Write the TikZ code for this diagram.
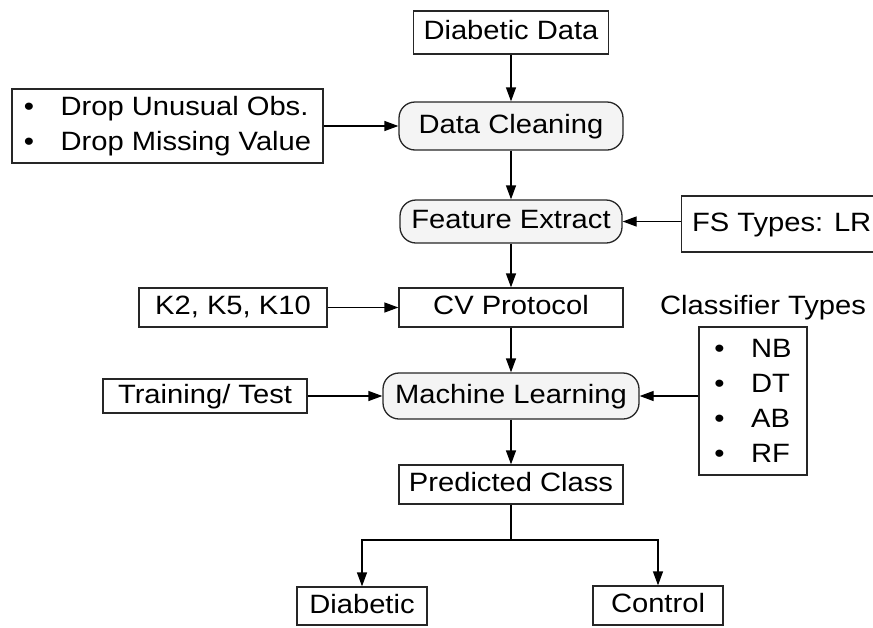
\documentclass[tikz,border=0pt]{standalone}
\usepackage{fontspec}
\setmainfont{Liberation Sans}[FakeStretch=1.1]
\usetikzlibrary{arrows.meta,positioning,calc}
\definecolor{procfill}{RGB}{244,244,244}
\tikzset{
  box/.style={draw=black!85,inner sep=0pt,line width=1.3pt},
  block/.style={box,align=center,minimum height=39pt,text height=19pt,text depth=5pt},
  proc/.style={block,rounded corners=16pt,fill=procfill},
  listbox/.style={box,align=left},
  arrow/.style={-{Triangle[length=14pt,width=10pt]},line width=1.3pt,draw=black}
}

\begin{document}
\begin{tikzpicture}[x=1pt,y=-1pt,font=\fontsize{26.5}{35}\selectfont]
    \clip (0,0) rectangle (873,627);
    % main column
    \node[block,minimum width=195pt,minimum height=43pt] (data) at (511,32.5) {Diabetic Data};
    \node[proc,minimum width=224pt,minimum height=48pt] (clean) at (511,126) {Data Cleaning};
    \node[proc,minimum width=222pt,minimum height=43pt] (feat) at (511,221.5) {Feature Extract};
    \node[block,minimum width=224pt] (cv) at (511,307.5) {CV Protocol};
    \node[proc,minimum width=256pt,minimum height=46pt] (ml) at (511,396) {Machine Learning};
    \node[block,minimum width=224pt] (pred) at (511,484.5) {Predicted Class};
    \node[block,minimum width=130pt,minimum height=38pt] (diab) at (362,606) {Diabetic};
    \node[block,minimum width=130pt] (ctrl) at (658,605.5) {Control};
    % side inputs
    \node[listbox,minimum width=311pt,minimum height=74pt] (drop) at (167.5,126)
      {\textbullet\quad Drop Unusual Obs.\\\textbullet\quad Drop Missing Value};
    \node[block,anchor=west,minimum width=200pt,minimum height=56pt] (fs) at (681,224) {FS Types: LR};
    \node[block,minimum width=188pt] (kfold) at (233,307.5) {K2, K5, K10};
    \node[block,minimum width=204pt,minimum height=34pt] (train) at (205,396) {Training/ Test};
    \node (clstitle) at (763,308) {Classifier Types};
    \node[listbox,minimum width=108pt,minimum height=148pt] (clsbox) at (753,401)
      {\textbullet\quad NB\\\textbullet\quad DT\\\textbullet\quad AB\\\textbullet\quad RF};
    % connectors
    \draw[arrow] (data) -- (clean);
    \draw[arrow] (clean) -- (feat);
    \draw[arrow] (feat) -- (cv);
    \draw[arrow] (cv) -- (ml);
    \draw[arrow] (ml) -- (pred);
    \draw[arrow] (drop) -- (clean);
    \draw[arrow] (fs.west |- feat.east) -- (feat.east);
    \draw[arrow] (kfold) -- (cv);
    \draw[arrow] (train) -- (ml);
    \draw[arrow] (clsbox.west |- ml.east) -- (ml.east);
    \coordinate (split) at (511,540);
    \draw[line width=1.3pt] (pred) -- (split);
    \draw[arrow] (split) -| (diab);
    \draw[arrow] (split) -| (ctrl);
  \end{tikzpicture}
\end{document}
